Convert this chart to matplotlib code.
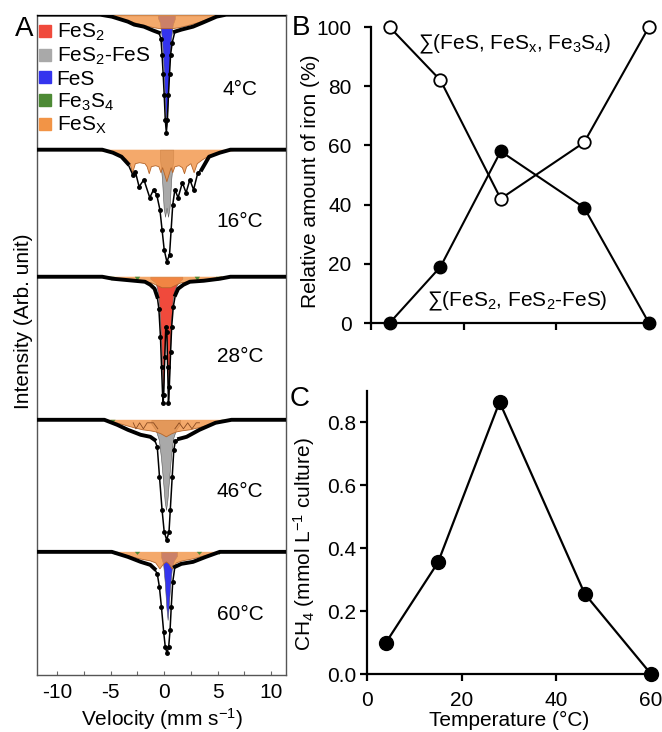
import numpy as np
import matplotlib
matplotlib.use('Agg')
import matplotlib.pyplot as plt
from matplotlib.lines import Line2D

plt.rcParams['font.family'] = ['Liberation Sans', 'DejaVu Sans']
plt.rcParams['mathtext.fontset'] = 'custom'
plt.rcParams['mathtext.rm'] = 'Liberation Sans'
plt.rcParams['mathtext.it'] = 'Liberation Sans'
plt.rcParams['mathtext.bf'] = 'Liberation Sans:bold'
plt.rcParams['font.size'] = 15

# ---- panel A: Mossbauer spectra (velocity mm/s, absorption depth arb.) ----
t4_env_v = [-11.9, -6, -4.9, -4.3, -3.4, -2.8, -1.9, -1.0, -0.5, -0.3, -0.2, -0.1, 0.0, 0.1, 0.2,
            0.3, 0.4, 0.5, 0.6, 0.75, 1.0, 1.6, 2.7, 3.6, 4.9, 5.8, 11.4]
t4_env_d = [0, 0, 2, 4, 7, 10, 12, 16, 18, 24, 40, 59, 80, 105, 118, 105, 80, 59, 40, 28, 17, 15,
            12, 8, 2, 0, 0]
t4_fes_v = [-0.6, -0.4, -0.2, -0.1, 0.0, 0.1, 0.2, 0.3, 0.4, 0.5, 0.6, 0.8, 1.0]
t4_fes_d = [3, 8, 25, 42, 65, 92, 112, 95, 70, 45, 28, 10, 4]
t4_fesx_v = [-6.8, -5.8, -4.8, -3.8, -2.8, -1.8, -1.0, -0.4, 0.2, 0.8, 1.4, 2.2, 3.2, 4.2, 5.2, 6.2]
t4_fesx_d = [0, 1, 2, 5, 8, 11, 13, 14, 14, 14, 13, 11, 8, 4, 1.5, 0]

t16_env_v = [-11.9, -5.8, -4.8, -4.0, -3.4, -2.95, -2.7, -2.35, -1.9, -1.35, -1.0, -0.7, -0.4,
             -0.2, 0.0, 0.25, 0.5, 0.65, 0.8, 1.0, 1.3, 1.7, 2.05, 2.4, 2.75, 3.15, 3.5, 4.2,
             5.2, 6.2, 11.4]
t16_env_d = [0, 0, 3, 7, 14, 25, 22, 37, 30, 48, 40, 45, 60, 80, 100, 112, 105, 80, 55, 40, 48,
             33, 43, 30, 40, 23, 20, 7, 3, 0, 0]
t16_gray_v = [-0.4, -0.2, -0.05, 0.08, 0.22, 0.36, 0.5, 0.65, 0.85]
t16_gray_d = [8, 30, 58, 67, 58, 67, 58, 30, 8]
t16_fesx_v = [-6.8, -5.3, -4.3, -3.6, -3.2, -2.95, -2.7, -2.3, -1.8, -1.6, -1.4, -1.2, -0.8,
              -0.5, -0.3, -0.15, 0.05, 0.25, 0.45, 0.65, 0.8, 1.0, 1.4, 1.7, 1.9, 2.1, 2.5,
              2.8, 3.1, 3.6, 4.4, 5.7, 7.2]
t16_fesx_d = [0, 2, 5, 9, 14, 23, 14, 13, 14, 17, 24, 17, 16, 17, 23, 18, 25, 32, 25, 18, 23,
              17, 16, 18, 24, 17, 14, 23, 14, 10, 5, 2, 0]

t28_env_v = [-11.9, -5.8, -4.8, -2.8, -1.8, -1.3, -0.9, -0.65, -0.5, -0.35, -0.25, -0.15, -0.1,
             -0.05, 0.05, 0.15, 0.25, 0.32, 0.4, 0.48, 0.6, 0.7, 0.85, 1.05, 1.3, 1.8, 2.4,
             3.7, 5.2, 6.2, 11.4]
t28_env_d = [0, 0, 2, 4, 5, 8, 12, 20, 32, 60, 90, 118, 126, 118, 80, 50, 55, 90, 126, 110, 75,
             50, 30, 18, 12, 8, 5, 4, 2, 0, 0]
t28_red_v = [-1.3, -0.8, -0.6, -0.45, -0.3, -0.2, -0.1, 0.0, 0.1, 0.15, 0.2, 0.3, 0.4, 0.5,
             0.65, 0.8, 1.0, 1.3, 1.7]
t28_red_d = [2, 6, 15, 30, 60, 90, 122, 90, 55, 48, 55, 90, 122, 90, 45, 22, 12, 6, 2]
t28_fesx_v = [-6.2, -5.0, -4.0, -3.0, -2.0, -1.2, -0.6, -0.2, 0.2, 0.6, 1.0, 1.6, 2.4, 3.4,
              4.4, 5.4]
t28_fesx_d = [0, 2, 3, 4, 5, 6, 9, 11, 11, 11, 9, 6, 5, 4, 2, 0]
t28_gr_v = [-5.15, -4.9, -4.65, -2.75, -2.5, -2.25, 2.85, 3.1, 3.35, 4.85, 5.1, 5.35]
t28_gr_d = [0, 4, 0, 0, 4, 0, 0, 4, 0, 0, 4, 0]

t46_env_v = [-11.9, -5.6, -4.4, -3.4, -2.2, -1.3, -0.9, -0.65, -0.44, -0.2, 0.0, 0.23, 0.45,
             0.57, 0.75, 0.9, 1.05, 1.4, 2.1, 3.3, 4.8, 6.3, 11.4]
t46_env_d = [0, 0, 5, 10, 15, 17, 20, 27, 57, 90, 112, 120, 112, 90, 57, 30, 21, 19, 17, 10, 3,
             0, 0]
t46_gray_v = [-1.2, -0.8, -0.5, -0.3, -0.1, 0.05, 0.17, 0.3, 0.45, 0.65, 0.85, 1.1, 1.5]
t46_gray_d = [4, 10, 20, 38, 62, 82, 90, 80, 60, 35, 18, 10, 4]
t46_fesx_v = [-6.3, -4.8, -3.8, -2.8, -2.4, -2.0, -1.3, -0.8, -0.3, 0.2, 0.7, 1.2, 1.7, 2.4,
              3.2, 4.2, 5.2, 6.7]
t46_fesx_d = [0, 2, 5, 8, 9, 10, 11, 12, 14, 17, 14, 12, 11, 10, 8, 5, 2, 0]
t46_sub_v = [-2.9, -2.65, -2.3, -1.95, -1.6, -1.0, -0.6, np.nan, 1.0, 1.4, 1.8, 2.2, 2.6, 3.0,
             3.3]
t46_sub_d = [3, 9, 3, 9, 3, 3, 9, np.nan, 9, 3, 9, 3, 9, 3, 3]
t46_gr_v = [-5.05, -4.8, -4.55, 5.35, 5.6, 5.85]
t46_gr_d = [0, 3, 0, 0, 3, 0]

t60_env_v = [-11.9, -4.9, -3.4, -2.2, -1.3, -0.9, -0.65, -0.45, -0.26, -0.05, 0.1, 0.26, 0.42,
             0.55, 0.66, 0.8, 1.0, 1.6, 2.7, 3.9, 5.2, 11.4]
t60_env_d = [0, 0, 5, 10, 13, 17, 22, 35, 55, 80, 95, 101, 95, 78, 55, 30, 15, 12, 10, 5, 0, 0]
t60_fes_v = [-0.3, -0.1, 0.05, 0.2, 0.32, 0.42, 0.55, 0.7, 0.9, 1.2]
t60_fes_d = [5, 12, 30, 55, 68, 55, 35, 18, 9, 4]
t60_fesx_v = [-5.3, -4.3, -3.3, -2.3, -1.3, -0.8, -0.4, -0.05, 0.2, 0.45, 0.75, 1.15, 1.7, 2.7,
              3.7, 4.7, 5.7]
t60_fesx_d = [0, 2, 4, 7, 9, 11, 17, 12, 10, 12, 17, 11, 9, 7, 4, 2, 0]
t60_gr_v = [-4.85, -4.6, -4.35, -2.75, -2.5, -2.25, 3.05, 3.3, 3.55, 4.9, 5.15, 5.4]
t60_gr_d = [0, 3, 0, 0, 3, 0, 0, 3, 0, 0, 3, 0]

spec_labels = ['4°C', '16°C', '28°C', '46°C', '60°C']
legend_labels = ['FeS$_2$', 'FeS$_2$-FeS', 'FeS', 'Fe$_3$S$_4$', 'FeS$_X$']

# ---- panels B and C ----
temps = [4, 15, 28, 46, 60]
fes_sum = [100, 82, 42, 61, 100]     # sum(FeS, FeSx, Fe3S4)
fes2_sum = [0, 19, 58, 39, 0]        # sum(FeS2, FeS2-FeS)
ch4 = [0.10, 0.355, 0.865, 0.255, 0.0]

RED = '#f04a3c'
GRAY = '#a9a9a9'
BLUE = '#3434ee'
GREEN = '#4d8a35'
ORANGE = '#f29446'
colors = [RED, GRAY, BLUE, GREEN, ORANGE]

fig = plt.figure(figsize=(6.62, 7.32), dpi=100)
axA = fig.add_axes([0.056, 0.078, 0.376, 0.902])
axB = fig.add_axes([0.5604, 0.5587, 0.4199, 0.4044])
axC = fig.add_axes([0.5544, 0.0792, 0.429, 0.3866])


def spectrum(ax, base, env_v, env_d, comps, fesx_v, fesx_d, green=None, sub=None):
    for v, d, c in comps:
        ax.fill_between(v, base, base - np.array(d), facecolor=c, edgecolor='#555555',
                        lw=0.4, zorder=2)
    fy = base - np.array(fesx_d)
    ax.fill_between(fesx_v, base, fy, facecolor=ORANGE, alpha=0.8, lw=0, zorder=3)
    ax.plot(fesx_v, fy, color='#b5652a', lw=0.6, zorder=3)
    if sub is not None:
        ax.plot(sub[0], base - np.array(sub[1]), color='#8a4a20', lw=0.6, zorder=3)
    if green is not None:
        ax.fill_between(green[0], base, base - np.array(green[1]), facecolor=GREEN,
                        lw=0, zorder=4)
    d = np.array(env_d, dtype=float)
    y = base - d
    ax.plot(env_v, y, color='k', lw=1.1, zorder=5)
    ax.plot(env_v, np.ma.masked_where(d > 20, y), color='k', lw=2.8, zorder=5)
    ax.plot(env_v, np.ma.masked_where(d <= 20, y), 'o', color='k', ms=2.5, zorder=6)


bases = [660, 525, 398, 255, 123]
spectrum(axA, bases[0], t4_env_v, t4_env_d, [(t4_fes_v, t4_fes_d, BLUE)], t4_fesx_v, t4_fesx_d)
spectrum(axA, bases[1], t16_env_v, t16_env_d, [(t16_gray_v, t16_gray_d, GRAY)],
         t16_fesx_v, t16_fesx_d)
spectrum(axA, bases[2], t28_env_v, t28_env_d, [(t28_red_v, t28_red_d, RED)],
         t28_fesx_v, t28_fesx_d, green=(t28_gr_v, t28_gr_d))
spectrum(axA, bases[3], t46_env_v, t46_env_d, [(t46_gray_v, t46_gray_d, GRAY)],
         t46_fesx_v, t46_fesx_d, green=(t46_gr_v, t46_gr_d), sub=(t46_sub_v, t46_sub_d))
spectrum(axA, bases[4], t60_env_v, t60_env_d, [(t60_fes_v, t60_fes_d, BLUE)],
         t60_fesx_v, t60_fesx_d, green=(t60_gr_v, t60_gr_d))

label_y = [585, 453, 318, 183, 60]
for lab, yy in zip(spec_labels, label_y):
    axA.text(7.1, yy, lab, ha='center', va='center', fontsize=15)

axA.set_xlim(-11.9, 11.4)
axA.set_ylim(0, 660)
axA.set_yticks([])
axA.set_xticks([-10, -5, 0, 5, 10])
axA.set_xticks([-7.5, -2.5, 2.5, 7.5], minor=True)
axA.set_xticklabels(['-10', '-5', '0', '5', '10'])
axA.tick_params(axis='x', which='both', direction='in', length=3, width=0.8,
                color='#666666', labelsize=15, pad=6)
for sp in axA.spines.values():
    sp.set_color('#555555')
    sp.set_linewidth(1.0)
axA.set_xlabel('Velocity (mm s$^{-1}$)', fontsize=15, labelpad=3)
axA.set_ylabel('Intensity (Arb. unit)', fontsize=15)
axA.yaxis.set_label_coords(-0.016, 0.535)

handles = [Line2D([], [], marker='s', ls='', color=c, mec=c, ms=8) for c in colors]
axA.legend(handles, legend_labels, loc='upper left', bbox_to_anchor=(-0.005, 0.995),
           frameon=False, handlelength=0.5, handletextpad=0.3, labelspacing=0.12,
           borderaxespad=0.1, fontsize=15, borderpad=0.1)

# panel B
axB.plot(temps, fes_sum, '-o', color='k', mfc='white', mec='k', mew=1.3, ms=9, lw=1.5,
         clip_on=False, zorder=3)
axB.plot(temps, fes2_sum, '-o', color='k', mfc='k', mec='k', ms=9, lw=1.5,
         clip_on=False, zorder=3)
axB.set_xlim(0, 60)
axB.set_ylim(0, 100)
axB.set_xticks([0, 20, 40, 60])
axB.set_xticklabels([])
axB.set_yticks([0, 20, 40, 60, 80, 100])
axB.tick_params(axis='y', pad=9)
axB.text(31.1, 94, '\u2211(FeS, FeS$_x$, Fe$_3$S$_4$)', ha='center', va='center', fontsize=15)
axB.text(31.5, 7.3, '\u2211(FeS$_2$, FeS$_2$-FeS)', ha='center', va='center', fontsize=15)
axB.set_ylabel('Relative amount of iron (%)', fontsize=15)
axB.yaxis.set_label_coords(-0.183, 0.48)

# panel C
axC.plot(temps, ch4, '-o', color='k', mfc='k', mec='k', ms=10, lw=1.6, clip_on=False, zorder=3)
axC.set_xlim(0, 60)
axC.set_ylim(0, 0.9)
axC.set_xticks([0, 20, 40, 60])
axC.set_yticks([0.0, 0.2, 0.4, 0.6, 0.8])
axC.set_yticklabels(['0.0', '0.2', '0.4', '0.6', '0.8'])
axC.tick_params(axis='y', pad=3)
axC.tick_params(axis='x', pad=7)
axC.set_xlabel('Temperature (°C)', fontsize=15, labelpad=1)
axC.set_ylabel('CH$_4$ (mmol L$^{-1}$ culture)', fontsize=15)
axC.yaxis.set_label_coords(-0.176, 0.46)

for ax in (axB, axC):
    ax.spines['top'].set_visible(False)
    ax.spines['right'].set_visible(False)
    for s in ('left', 'bottom'):
        ax.spines[s].set_linewidth(1.6)
    ax.tick_params(which='both', direction='out', length=5, width=1.6, labelsize=15)

fig.text(0.022, 0.978, 'A', fontsize=20, va='top', ha='left')
fig.text(0.441, 0.979, 'B', fontsize=20, va='top', ha='left')
fig.text(0.437, 0.472, 'C', fontsize=20, va='top', ha='left')

fig.savefig('out.png', dpi=100)
